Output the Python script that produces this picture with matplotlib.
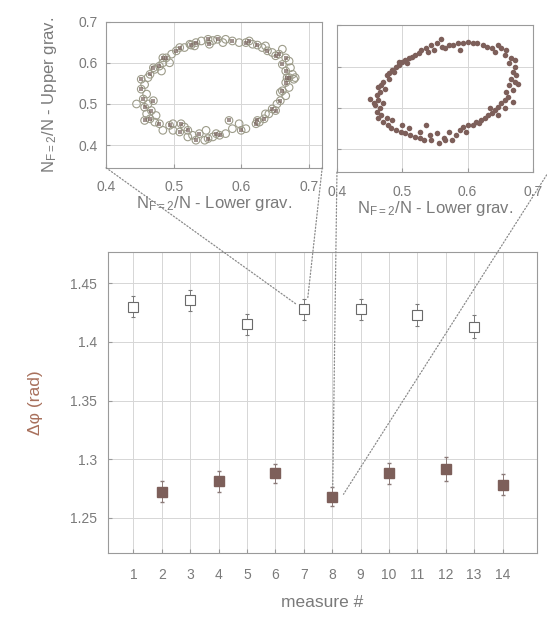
import matplotlib
matplotlib.use("Agg")
import matplotlib.pyplot as plt
from matplotlib.patches import ConnectionPatch

plt.rcParams['font.family'] = ['Liberation Sans', 'DejaVu Sans']
plt.rcParams['mathtext.default'] = 'regular'

# main panel: phase difference per measure
measure_up = [1, 3, 5, 7, 9, 11, 13]
dphi_up = [1.430, 1.4355, 1.415, 1.428, 1.428, 1.423, 1.413]
err_up = [0.009, 0.009, 0.009, 0.009, 0.009, 0.009, 0.010]

measure_low = [2, 4, 6, 8, 10, 12, 14]
dphi_low = [1.272, 1.281, 1.288, 1.268, 1.288, 1.2915, 1.278]
err_low = [0.009, 0.009, 0.008, 0.008, 0.009, 0.010, 0.009]

xticks = list(range(1, 15))
yticks = [1.25, 1.3, 1.35, 1.4, 1.45]
yticklabels = ['1.25', '1.3', '1.35', '1.4', '1.45']

# ellipse of measure 7 (open circles)
ell7_x = [0.509, 0.524, 0.533, 0.541, 0.551, 0.558, 0.565, 0.577, 0.587, 0.597,
          0.607, 0.617, 0.624, 0.631, 0.639, 0.646, 0.656, 0.661, 0.666, 0.671,
          0.661, 0.673, 0.666, 0.676, 0.671, 0.678, 0.666, 0.671, 0.661, 0.666,
          0.658, 0.653, 0.646, 0.641, 0.634, 0.627, 0.622, 0.607, 0.600, 0.587,
          0.582, 0.577, 0.568, 0.558, 0.551, 0.546, 0.538, 0.528, 0.521, 0.516,
          0.509, 0.499, 0.494, 0.484, 0.479, 0.472, 0.465, 0.460, 0.457, 0.462,
          0.455, 0.460, 0.452, 0.457, 0.452, 0.462, 0.465, 0.472, 0.479, 0.484,
          0.489, 0.497, 0.504, 0.516, 0.526, 0.494, 0.470, 0.482, 0.467, 0.474,
          0.470, 0.445, 0.457, 0.499, 0.511, 0.521, 0.533, 0.548, 0.563, 0.597,
          0.624, 0.636, 0.651, 0.658, 0.668, 0.680, 0.651, 0.636, 0.612, 0.573,
          0.553, 0.531, 0.484]
ell7_y = [0.637, 0.645, 0.649, 0.653, 0.657, 0.654, 0.657, 0.657, 0.653, 0.649,
          0.649, 0.645, 0.643, 0.637, 0.629, 0.625, 0.621, 0.633, 0.612, 0.604,
          0.596, 0.588, 0.580, 0.572, 0.564, 0.560, 0.552, 0.540, 0.532, 0.520,
          0.508, 0.500, 0.488, 0.476, 0.464, 0.456, 0.452, 0.440, 0.436, 0.440,
          0.460, 0.428, 0.424, 0.420, 0.416, 0.412, 0.428, 0.424, 0.436, 0.444,
          0.432, 0.436, 0.448, 0.436, 0.452, 0.456, 0.464, 0.476, 0.492, 0.500,
          0.512, 0.524, 0.536, 0.547, 0.560, 0.564, 0.572, 0.584, 0.592, 0.600,
          0.612, 0.621, 0.629, 0.637, 0.643, 0.600, 0.588, 0.580, 0.484, 0.472,
          0.508, 0.500, 0.460, 0.452, 0.452, 0.420, 0.412, 0.436, 0.428, 0.452,
          0.460, 0.476, 0.484, 0.528, 0.564, 0.564, 0.617, 0.641, 0.653, 0.649,
          0.645, 0.641, 0.612]

# ellipse of measure 8 (filled dots)
ell8_x = [0.559, 0.554, 0.544, 0.537, 0.529, 0.525, 0.520, 0.515, 0.510, 0.505,
          0.500, 0.495, 0.490, 0.485, 0.480, 0.476, 0.471, 0.468, 0.463, 0.466,
          0.461, 0.451, 0.463, 0.458, 0.466, 0.461, 0.468, 0.463, 0.471, 0.478,
          0.483, 0.490, 0.498, 0.505, 0.512, 0.520, 0.527, 0.534, 0.542, 0.544,
          0.556, 0.564, 0.571, 0.576, 0.583, 0.588, 0.593, 0.601, 0.608, 0.613,
          0.620, 0.627, 0.632, 0.637, 0.642, 0.647, 0.652, 0.657, 0.662, 0.659,
          0.669, 0.664, 0.672, 0.667, 0.674, 0.669, 0.672, 0.664, 0.667, 0.657,
          0.659, 0.652, 0.642, 0.637, 0.630, 0.623, 0.615, 0.608, 0.601, 0.593,
          0.586, 0.578, 0.571, 0.566, 0.561, 0.549, 0.507, 0.488, 0.473, 0.456,
          0.471, 0.476, 0.485, 0.500, 0.510, 0.527, 0.537, 0.554, 0.566, 0.598,
          0.618, 0.647, 0.635, 0.657, 0.669, 0.677, 0.672, 0.647, 0.588, 0.539,
          0.495, 0.480]
ell8_y = [0.668, 0.656, 0.652, 0.644, 0.640, 0.632, 0.628, 0.624, 0.620, 0.616,
          0.612, 0.604, 0.600, 0.592, 0.584, 0.580, 0.563, 0.555, 0.551, 0.539,
          0.531, 0.523, 0.519, 0.507, 0.499, 0.491, 0.483, 0.475, 0.467, 0.459,
          0.451, 0.447, 0.443, 0.439, 0.435, 0.431, 0.427, 0.423, 0.435, 0.423,
          0.415, 0.427, 0.443, 0.423, 0.435, 0.447, 0.455, 0.459, 0.459, 0.467,
          0.471, 0.475, 0.483, 0.487, 0.495, 0.503, 0.511, 0.519, 0.527, 0.539,
          0.543, 0.555, 0.563, 0.571, 0.580, 0.588, 0.600, 0.608, 0.620, 0.628,
          0.640, 0.644, 0.636, 0.644, 0.648, 0.652, 0.656, 0.656, 0.660, 0.656,
          0.656, 0.652, 0.652, 0.644, 0.648, 0.640, 0.608, 0.588, 0.547, 0.511,
          0.511, 0.475, 0.471, 0.459, 0.451, 0.443, 0.459, 0.439, 0.423, 0.443,
          0.463, 0.483, 0.499, 0.499, 0.515, 0.559, 0.616, 0.652, 0.640, 0.636,
          0.612, 0.571]

txt = '#7a7a7a'
spine = '#9a9a9a'
gridc = '#d6d6d6'
brown = '#7d5f5a'

fig = plt.figure(figsize=(5.47, 6.17), dpi=100)
ax1 = fig.add_axes([0.194, 0.728, 0.395, 0.237])
ax2 = fig.add_axes([0.616, 0.721, 0.358, 0.238])
ax = fig.add_axes([0.197, 0.104, 0.784, 0.488])

for a in (ax1, ax2, ax):
    for s in a.spines.values():
        s.set_color(spine)
        s.set_linewidth(0.8)
    a.tick_params(direction='in', colors=spine, labelcolor=txt, labelsize=10, length=3)
    a.grid(True, color=gridc, linewidth=0.7)
    a.set_axisbelow(True)

# top left
ax1.scatter(ell7_x, ell7_y, s=30, facecolors='none', edgecolors='#9d9c8a', linewidths=0.8)
ax1.scatter(ell7_x[::2], ell7_y[::2], s=12, marker='s', color='#7a6660', alpha=0.7, linewidths=0)
ax1.set_xlim(0.4, 0.72)
ax1.set_ylim(0.345, 0.7)
ax1.set_xticks([0.4, 0.5, 0.6, 0.7])
ax1.set_xticklabels(['0.4', '0.5', '0.6', '0.7'])
ax1.set_yticks([0.4, 0.5, 0.6, 0.7])
ax1.set_yticklabels(['0.4', '0.5', '0.6', '0.7'])
ax1.tick_params(axis='x', pad=9)
ax1.tick_params(axis='y', pad=6)
ax1.set_xlabel('N$_{F=2}$/N - Lower grav.', color=txt, fontsize=12, labelpad=0)
ax1.set_ylabel('N$_{F=2}$/N - Upper grav.', color=txt, fontsize=12, labelpad=14)

# top right
ax2.scatter(ell8_x, ell8_y, s=16, color=brown, linewidths=0)
ax2.set_xlim(0.4, 0.7)
ax2.set_ylim(0.345, 0.7)
ax2.set_xticks([0.4, 0.5, 0.6, 0.7])
ax2.set_xticklabels(['0.4', '0.5', '0.6', '0.7'])
ax2.set_yticks([0.4, 0.5, 0.6, 0.7])
ax2.set_yticklabels([])
ax2.tick_params(axis='x', pad=9)
ax2.set_xlabel('N$_{F=2}$/N - Lower grav.', color=txt, fontsize=12, labelpad=0)

# main
ax.errorbar(measure_up, dphi_up, yerr=err_up, fmt='s', ms=6.5, mfc='white', mec='#6a6a6a',
            mew=0.8, ecolor='#7a7a7a', elinewidth=0.7, capsize=1.5)
ax.errorbar(measure_low, dphi_low, yerr=err_low, fmt='s', ms=6.5, mfc=brown, mec=brown,
            ecolor='#8a7a78', elinewidth=0.7, capsize=1.5)
ax.set_xlim(0.1, 15.2)
ax.set_ylim(1.22, 1.477)
ax.set_xticks(xticks)
ax.set_yticks(yticks)
ax.set_yticklabels(yticklabels)
ax.tick_params(axis='x', pad=11)
ax.tick_params(axis='y', pad=8)
ax.set_xlabel('measure #', color=txt, fontsize=12.5, labelpad=9)
ax.set_ylabel('\u0394\u03c6 (rad)', color='#a8705c', fontsize=12.5, labelpad=19)

# dotted guides from the ellipses to their points
links = [(ax1, (0, 0), (6.75, 1.432)), (ax1, (1, 0), (7.14, 1.437)),
         (ax2, (0, 0), (8.02, 1.274)), (ax2, (1.08, 0), (8.4, 1.270))]
for src, a_xy, b_xy in links:
    con = ConnectionPatch(xyA=a_xy, coordsA=src.transAxes, xyB=b_xy, coordsB=ax.transData,
                          linestyle=':', color='#8a8a8a', linewidth=0.9)
    fig.add_artist(con)

fig.savefig('out.png', dpi=100)
